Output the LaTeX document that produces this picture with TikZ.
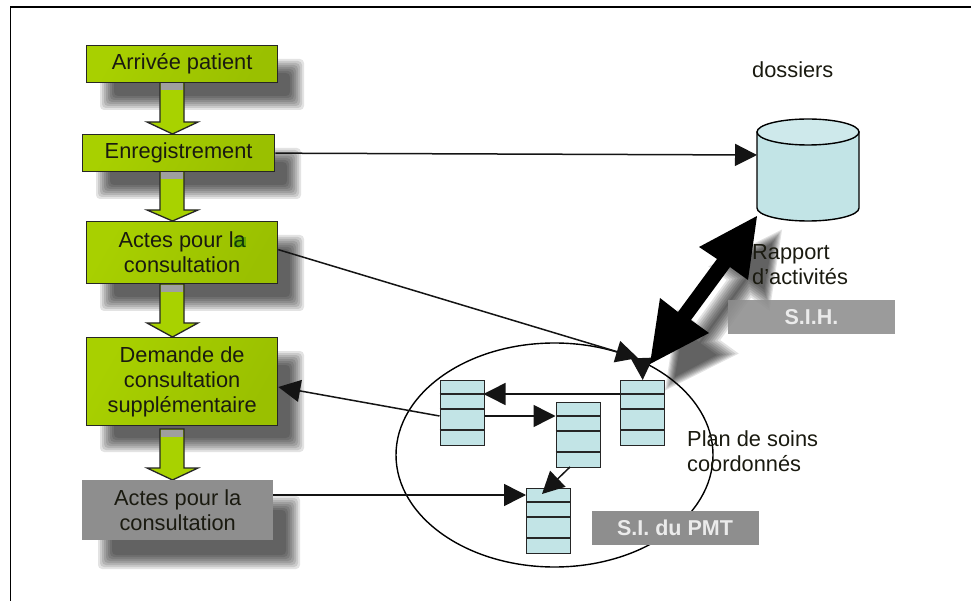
\documentclass[tikz,border=0pt]{standalone}
\usepackage{fontspec}
\setmainfont{Liberation Sans}
\usetikzlibrary{arrows.meta,calc}
\definecolor{gbox}{HTML}{A8D000}
\definecolor{gboxd}{HTML}{9AC000}
\definecolor{garrow}{HTML}{A8D200}
\definecolor{tealbox}{HTML}{C2E4E6}
\definecolor{graybox}{HTML}{8E8E8E}
\definecolor{ink}{HTML}{1A1A10}
\tikzset{
  x=1pt,y=-1pt,
  flowbox/.style={draw=black!85,line width=1.3pt,left color=gbox,right color=gboxd,shading angle=60,text=ink,font=\fontsize{21.8}{25}\selectfont,align=center,inner sep=0pt,anchor=north west},
  graysolid/.style={fill=graybox,text=ink,font=\fontsize{21.8}{25}\selectfont,align=center,inner sep=0pt,anchor=north west},
  tag/.style={fill=graybox,text=white!92!black,font=\fontsize{21.5}{25}\selectfont\bfseries,align=center,inner sep=0pt,anchor=north west},
  lab/.style={text=ink,font=\fontsize{21.8}{25}\selectfont,align=left,inner sep=0pt,anchor=west},
  conn/.style={line width=1.5pt,black!92,-{Triangle[length=22pt,width=22pt]}},
  cell/.style={draw=black!85,line width=1.3pt,fill=tealbox},
  flowarrow/.style={draw=black!85,line width=1.3pt,fill=garrow,line join=miter},
  blurlayer/.style={fill=black,opacity=.11,draw=none}
}
% blurred rectangle shadow: nested rounded rectangles
\newcommand{\softrect}[4]{%
  \foreach \o in {7,5,3,1,-1,-3,-5,-7}{%
    \fill[blurlayer,rounded corners=4pt] (#1-\o,#2-\o) rectangle (#3+\o,#4+\o);}}
% blurred shadow of the double arrow: nested offset outlines in the arrow's own frame
\newcommand{\softarrow}{%
  \begin{scope}[shift={(723.5,310)},rotate=54]
  \foreach \o in {7,5,3,1,-1,-3,-5,-7}{%
    \fill[blurlayer] (91.3+1.2*\o,0)--(33.3-\o,29.5+1.2*\o)--(33.3-\o,8+\o)--(-33.3+\o,8+\o)--(-33.3+\o,29.5+1.2*\o)--(-91.3-1.2*\o,0)--(-33.3+\o,-29.5-1.2*\o)--(-33.3+\o,-8-\o)--(33.3-\o,-8-\o)--(33.3-\o,-29.5-1.2*\o)--cycle;}
  \end{scope}}
% flow block arrow: top y, head y, tip y
\newcommand{\flowdown}[3]{%
  \path[flowarrow] (160,#1)--(184,#1)--(184,#2)--(198,#2)--(172.5,#3)--(147,#2)--(160,#2)--cycle;
  \path[fill=graybox!85!white] (160.6,#1+.6) rectangle (183.4,#1+8);}
% table with rows: left, top
\newcommand{\tablebox}[3]{%
  \node[cell,minimum width=44pt,minimum height=65pt,inner sep=0pt,anchor=north west] (#1) at (#2,#3) {};
  \draw[black!85,line width=1.3pt] (#2,#3+14)--(#2+44,#3+14) (#2,#3+29)--(#2+44,#3+29) (#2,#3+50)--(#2+44,#3+50);}
\begin{document}
\begin{tikzpicture}
\useasboundingbox (0,0) rectangle (971,601);
\fill[white] (0,0) rectangle (971,601);
% frame
\draw[black,line width=1.5pt] (10.5,601)--(10.5,7)--(971,7);
% shadows
\softrect{107}{66}{297}{103}
\softrect{103}{155}{294}{192}
\softrect{107}{242}{297}{304}
\softrect{107}{358}{297}{445}
\softrect{105}{503}{293}{562}
\softarrow
% block arrows
\flowdown{82}{122}{134}
\flowdown{171}{210}{221}
\flowdown{284}{323}{337}
\flowdown{429}{468}{480}
% boxes
\node[flowbox,minimum width=191pt,minimum height=37pt] (a) at (86,45) {\raisebox{-1.5pt}{Arrivée patient}};
\node[flowbox,minimum width=192pt,minimum height=37pt] (b) at (82,134) {\raisebox{-.5pt}{Enregistrement}};
\node[flowbox,minimum width=191pt,minimum height=62pt] (c) at (86,221) {Actes pour la\\consultation};
\fill[green!45!black,opacity=.35] (234,237) rectangle (246,247);
\node[flowbox,minimum width=191pt,minimum height=88pt] (d) at (86,337) {Demande de\\consultation\\supplémentaire};
\node[graysolid,minimum width=191pt,minimum height=60pt] (e) at (82,480) {Actes pour la\\consultation};
% cylinder
\coordinate (cylW) at (757,155);
\path[draw=black,line width=1.4pt,fill=tealbox] (757,132)--(757,208) arc[start angle=180,end angle=360,x radius=51,y radius=-13]--(859,132)--cycle;
\path[draw=black,line width=1.4pt,fill=tealbox!80!white] (808,132) ellipse[x radius=51,y radius=13];
% ellipse
\draw[black,line width=1.4pt] (554.5,455) ellipse[x radius=158.5,y radius=112];
% tables
\tablebox{t1}{439.5}{380}
\tablebox{t2}{555.5}{402}
\tablebox{t3}{620}{380}
\tablebox{t4}{526}{488}
% labels
\node[lab] (dos) at (752,70) {dossiers};
\node[lab,anchor=north west] (rap) at (752,244) {Rapport\\d’activités};
\node[lab,anchor=north west] (plan) at (687,431) {Plan de soins\\coordonnés};
\node[tag,opacity=.88,text opacity=1,minimum width=167pt,minimum height=34.5pt] (sih) at (727.7,299.7) {S.I.H.};
\node[tag,minimum width=167pt,minimum height=34.5pt] (sipmt) at (591.3,510.3) {S.I. du PMT};
% connectors
\draw[conn] (b.east) -- (cylW);
\draw[conn] (c.east) ++(0,-3) -- (638,358);
\coordinate (t3top) at (642.7,380);
\coordinate (hub) at (642,360);
\draw[conn] (hub) -- (t3top);
\draw[conn] (t3.north west) ++(0,14) -- (483.5,394);
\draw[conn] (t1.east |- 0,416) -- (t2.west |- 0,416);
\draw[conn] (570,467) -- (542,494);
\draw[conn] (t1.west |- 0,416) -- (d.east |- 0,387);
\draw[conn] (e.east |- 0,495) -- (t4.west |- 0,495);
% thick double arrow
\fill[black] (757,216)--(748,280)--(730,267)--(691,320)--(709,333)--(650,364)--(660,298)--(678,312)--(717,259)--(699,247)--cycle;
\end{tikzpicture}
\end{document}
